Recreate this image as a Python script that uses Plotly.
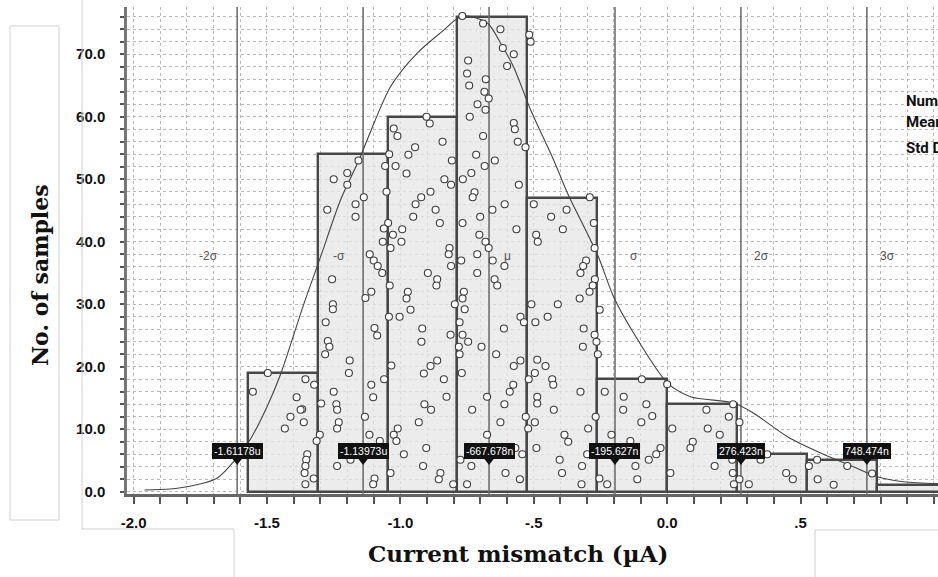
import plotly.graph_objects as go

# ---------------- data ----------------
bin_left = -1.572
bin_width = 0.262
bin_counts = [19, 54, 60, 76, 47, 18, 14, 6, 5, 1]

sigma_marks = [-1.61178, -1.13973, -0.667678, -0.195627, 0.276423, 0.748474]
sigma_names = ["-2σ", "-σ", "μ", "σ", "2σ", "3σ"]
marker_texts = ["-1.61178u", "-1.13973u", "-667.678n", "-195.627n", "276.423n", "748.474n"]

curve_x = [-1.959, -1.862, -1.768, -1.686, -1.569, -1.502, -1.449, -1.363, -1.299, -1.224,
           -1.157, -1.037, -0.936, -0.850, -0.767, -0.674, -0.625, -0.576, -0.512, -0.426,
           -0.374, -0.261, -0.201, -0.126, 0.001, 0.087, 0.249, 0.323, 0.451, 0.575,
           0.698, 0.788, 0.886, 1.017]
curve_y = [0.27, 0.43, 1.07, 2.19, 7.95, 13.4, 18.8, 29.9, 37.6, 46.7,
           52.9, 64.8, 70.2, 73.4, 76.1, 75.0, 71.8, 68.0, 61.1, 53.1,
           47.8, 37.9, 31.2, 25.4, 17.4, 15.2, 14.2, 12.6, 8.8, 6.2,
           4.0, 2.4, 1.6, 1.3]

sample_x = [-0.768, -0.690, -0.625, -0.517, -0.512, -0.616, -0.575, -0.600, -0.746, -0.750,
            -0.742, -0.680, -0.685, -0.669, -0.711, -0.681, -0.740, -0.902, -0.890, -1.025,
            -1.011, -0.575, -0.571, -0.560, -0.531, -0.690, -0.842, -0.945, -0.970, -1.042,
            -0.716, -0.807, -0.646, -0.684, -1.018, -1.057, -1.157, -1.199, -1.199, -1.250,
            -0.977, -0.734, -0.766, -0.835, -0.810, -0.556, -0.722, -0.887, -0.922, -1.052,
            -1.137, -0.729, -0.290, -1.274, -1.168, -1.168, -1.046, -1.062, -1.066, -1.037,
            -1.028, -1.115, -1.100, -1.085, -1.068, -1.040, -1.109, -1.131, -1.256, -1.253,
            -1.253, -1.043, -1.003, -1.280, -1.097, -1.087, -1.272, -1.266, -1.282, -1.190,
            -1.193, -1.034, -1.061, -1.109, -1.102, -1.250, -1.497, -1.356, -1.323, -1.553,
            -1.389, -0.943, -0.868, -0.952, -0.852, -0.993, -0.996, -0.816, -0.819, -0.810,
            -0.897, -0.862, -0.865, -0.972, -0.977, -0.962, -0.918, -0.921, -0.812, -0.862,
            -0.887, -0.912, -0.837, -0.827, -0.767, -0.701, -0.655, -0.609, -0.704, -0.681,
            -0.669, -0.712, -0.772, -0.654, -0.610, -0.712, -0.647, -0.637, -0.762, -0.767,
            -0.796, -0.759, -0.778, -0.767, -0.746, -0.781, -0.778, -0.696, -0.612, -0.641,
            -0.770, -0.575, -0.550, -0.577, -0.590, -0.675, -0.500, -0.565, -0.491, -0.485,
            -0.435, -0.377, -0.391, -0.275, -0.272, -0.304, -0.315, -0.325, -0.271, -0.279,
            -0.291, -0.328, -0.509, -0.410, -0.253, -0.550, -0.537, -0.448, -0.494, -0.313,
            -0.272, -0.265, -0.316, -0.260, -0.487, -0.456, -0.496, -0.519, -0.431, -0.427,
            -0.325, -0.487, -0.234, -0.163, -0.095, 0.000, -1.240, -1.237, -1.231, -1.237,
            -1.297, -1.302, -1.314, -1.368, -1.362, -1.349, -1.353, -1.356, -1.359, -1.356,
            -1.325, -1.237, -1.187, -1.133, -1.116, -1.077, -1.097, -1.102, -1.037, -1.025,
            -1.015, -1.010, -0.987, -0.910, -0.885, -0.931, -0.903, -0.915, -0.850, -0.856,
            -0.802, -0.775, -0.750, -0.734, -0.731, -0.675, -0.625, -0.610, -0.569, -0.606,
            -0.552, -0.543, -0.530, -0.521, -0.496, -0.487, -0.490, -0.425, -0.385, -0.371,
            -0.403, -0.394, -0.321, -0.319, -0.296, -0.268, -0.209, -0.165, -0.138, -0.119,
            -0.112, -0.254, -0.225, -0.300, -0.097, -0.078, -0.056, -0.025, -0.041, -0.069,
            0.019, 0.012, 0.096, 0.087, 0.147, 0.152, 0.197, 0.178, 0.231, 0.247,
            0.271, 0.244, 0.246, 0.271, 0.250, 0.306, 0.350, 0.375, 0.446, 0.471,
            0.531, 0.562, 0.564, 0.624, 0.675, 0.768, -1.374, -1.412, -1.433]
sample_y = [76.1, 74.9, 74.0, 73.1, 72.0, 71.0, 70.0, 68.1, 69.0, 66.9,
            65.0, 66.0, 64.0, 62.9, 62.0, 61.1, 60.0, 60.0, 58.9, 58.1,
            56.9, 59.0, 58.0, 56.0, 55.1, 56.9, 56.0, 55.1, 53.9, 54.0,
            53.9, 53.0, 53.0, 52.1, 52.1, 52.1, 53.0, 51.0, 49.1, 50.0,
            50.9, 51.0, 50.0, 50.0, 49.1, 49.1, 47.9, 48.0, 47.1, 48.0,
            47.1, 47.1, 47.1, 45.1, 46.0, 44.0, 43.0, 42.1, 40.0, 39.0,
            41.1, 38.0, 37.0, 36.1, 35.0, 33.0, 32.0, 31.0, 34.0, 30.0,
            29.2, 28.0, 28.0, 27.1, 26.2, 25.0, 24.1, 23.2, 22.0, 21.0,
            19.0, 20.2, 18.0, 17.1, 15.1, 16.0, 19.0, 18.0, 17.1, 16.0,
            15.1, 46.0, 45.1, 44.0, 43.0, 42.0, 40.0, 39.0, 38.0, 36.1,
            35.0, 34.0, 33.0, 32.0, 30.9, 29.1, 26.1, 24.0, 25.1, 21.0,
            20.1, 18.9, 18.0, 15.2, 43.0, 44.0, 45.1, 46.0, 41.1, 40.0,
            39.0, 38.0, 37.0, 37.0, 36.1, 35.0, 34.0, 33.0, 32.0, 30.9,
            30.0, 29.2, 27.1, 25.1, 24.0, 23.2, 22.0, 23.2, 26.1, 22.0,
            19.0, 20.1, 21.0, 17.1, 16.0, 15.2, 46.0, 42.0, 41.1, 40.0,
            44.0, 45.1, 42.0, 43.0, 39.0, 37.0, 36.1, 35.0, 34.0, 33.0,
            32.0, 30.9, 30.0, 30.0, 29.1, 28.0, 27.1, 28.0, 27.1, 26.1,
            25.1, 24.0, 23.2, 22.0, 21.1, 20.1, 19.0, 18.0, 18.0, 17.1,
            16.0, 15.2, 16.0, 15.2, 18.0, 17.2, 14.0, 13.1, 11.1, 10.1,
            14.1, 9.1, 8.1, 13.2, 11.1, 6.0, 5.1, 4.1, 3.0, 1.2,
            2.1, 4.1, 5.1, 12.0, 9.1, 8.1, 2.1, 1.2, 3.0, 9.1,
            8.1, 10.1, 6.0, 14.0, 13.1, 11.1, 7.0, 4.1, 3.0, 2.0,
            1.2, 5.1, 1.2, 4.1, 13.1, 9.1, 11.1, 14.0, 7.0, 3.0,
            2.0, 6.0, 12.0, 10.1, 11.1, 14.1, 7.0, 13.1, 9.1, 8.0,
            5.1, 3.0, 1.2, 4.1, 10.1, 12.0, 9.1, 13.1, 8.1, 4.1,
            2.0, 2.1, 1.2, 6.0, 11.1, 14.0, 12.1, 7.0, 6.0, 5.1,
            10.1, 3.0, 8.0, 7.0, 13.1, 10.1, 9.1, 4.1, 12.0, 14.0,
            11.1, 5.1, 3.0, 2.0, 1.2, 1.2, 5.1, 6.0, 3.0, 2.0,
            4.1, 5.1, 2.0, 1.1, 4.1, 2.9, 13.1, 12.0, 10.1]

x_ticks = [-2.0, -1.5, -1.0, -0.5, 0.0, 0.5, 1.0]
x_ticktext = ["-2.0", "-1.5", "-1.0", "-.5", "0.0", ".5", "1.0"]
stats_labels = ["Number", "Mean", "Std Dev"]

# ---------------- layout constants ----------------
W, H = 938, 577
ML, MR, MT, MB = 127, 0, 7, 83
X_RANGE = [-2.0247, 1.0151]
Y_RANGE = [-0.37, 77.55]
label_y = 37.7      # height of sigma names
marker_box_y = 6.5  # height of value tags
pointer_y = 4.9


def px(xp):
    return (xp - ML) / (W - ML - MR)


def py(yp):
    return (H - MB - yp) / (H - MT - MB)


bin_centers = [bin_left + bin_width * (i + 0.5) for i in range(len(bin_counts))]

fig = go.Figure()

fig.add_trace(go.Bar(
    x=bin_centers, y=bin_counts, width=bin_width,
    marker=dict(color="rgba(230,230,230,0.75)", line=dict(color="#474747", width=2.4)),
    hoverinfo="skip"))

for m in sigma_marks:
    fig.add_trace(go.Scatter(x=[m, m], y=Y_RANGE, mode="lines",
                             line=dict(color="#6f6f6f", width=1.6), hoverinfo="skip"))

fig.add_trace(go.Scatter(x=curve_x, y=curve_y, mode="lines",
                         line=dict(color="#444444", width=1.1, shape="spline", smoothing=0.8),
                         hoverinfo="skip"))

fig.add_trace(go.Scatter(x=sample_x, y=sample_y, mode="markers",
                         marker=dict(symbol="circle", size=7, color="white",
                                     line=dict(color="#3c3c3c", width=1.1)),
                         hoverinfo="skip"))

fig.add_trace(go.Scatter(x=sigma_marks, y=[pointer_y] * len(sigma_marks), mode="markers",
                         marker=dict(symbol="triangle-down", size=8, color="#111111"),
                         hoverinfo="skip"))

annotations = []
shifts = [-29, -24, 18, 19, 21, 21]
for m, n, s in zip(sigma_marks, sigma_names, shifts):
    annotations.append(dict(x=m, y=label_y, xref="x", yref="y", text=n, showarrow=False,
                            xshift=s, font=dict(family="Liberation Sans", size=12, color="#555555")))
for m, t in zip(sigma_marks, marker_texts):
    annotations.append(dict(x=m, y=marker_box_y, xref="x", yref="y", text=t, showarrow=False,
                            bgcolor="#111111", bordercolor="#111111", borderpad=1,
                            font=dict(family="Liberation Sans Narrow, Liberation Sans", size=10.5, color="white")))
for i, t in enumerate(stats_labels):
    annotations.append(dict(x=px(904), y=py([100.7, 122.3, 147.7][i]), xref="paper", yref="paper",
                            text=t, showarrow=False, xanchor="left", yanchor="middle",
                            font=dict(family="Roboto", size=15, color="#111111", weight="bold")))
annotations.append(dict(x=px(40), y=py(275), xref="paper", yref="paper", text="No. of samples",
                        showarrow=False, textangle=-90, xanchor="center", yanchor="middle",
                        font=dict(family="DejaVu Serif", size=22, color="#111111", weight="bold")))
annotations.append(dict(x=px(518), y=py(553), xref="paper", yref="paper", text="Current mismatch (µA)",
                        showarrow=False, xanchor="center", yanchor="middle",
                        font=dict(family="DejaVu Serif", size=23, color="#111111", weight="bold")))

deco = dict(color="#cfcfcf", width=1)
shapes = [
    dict(type="rect", xref="paper", yref="paper", x0=px(10), x1=px(59), y0=py(26), y1=py(520), line=deco),
    dict(type="line", xref="paper", yref="paper", x0=px(82), x1=px(82), y0=py(0), y1=py(529), line=deco),
    dict(type="line", xref="paper", yref="paper", x0=px(82), x1=px(234), y0=py(529), y1=py(529), line=deco),
    dict(type="line", xref="paper", yref="paper", x0=px(234), x1=px(234), y0=py(529), y1=py(577), line=deco),
    dict(type="line", xref="paper", yref="paper", x0=px(815), x1=px(938), y0=py(530), y1=py(530), line=deco),
    dict(type="line", xref="paper", yref="paper", x0=px(815), x1=px(815), y0=py(530), y1=py(577), line=deco),
]

grid_style = dict(gridcolor="#b8b8b8", gridwidth=1, griddash="dot")

fig.update_layout(
    width=W, height=H, margin=dict(l=ML, r=MR, t=MT, b=MB),
    paper_bgcolor="white", plot_bgcolor="white", showlegend=False, bargap=0,
    annotations=annotations, shapes=shapes,
    xaxis=dict(range=X_RANGE, tickmode="array", tickvals=x_ticks, ticktext=x_ticktext,
               ticks="outside", ticklen=7, tickwidth=1.5, tickcolor="#555555",
               showline=True, linecolor="#666666", linewidth=2.5,
               tickfont=dict(family="Liberation Sans", size=15, color="#111111", weight="bold"),
               ticklabelstandoff=6,
               showgrid=True, zeroline=False, **grid_style,
               minor=dict(tickmode="linear", tick0=-2.0, dtick=0.1, ticks="outside", ticklen=7,
                          tickwidth=1.5, tickcolor="#555555", showgrid=True, **grid_style)),
    yaxis=dict(range=Y_RANGE, tickmode="linear", tick0=0, dtick=10, tickformat=".1f",
               ticks="outside", ticklen=4, tickwidth=1.5, tickcolor="#555555",
               showline=True, linecolor="#777777", linewidth=2.5,
               tickfont=dict(family="Liberation Sans", size=15, color="#111111", weight="bold"),
               ticklabelstandoff=12,
               showgrid=True, zeroline=False, **grid_style,
               minor=dict(tickmode="linear", tick0=0, dtick=2, ticks="outside", ticklen=4,
                          tickwidth=1.5, tickcolor="#555555", showgrid=True, **grid_style)),
)

fig.write_html("out.html")
